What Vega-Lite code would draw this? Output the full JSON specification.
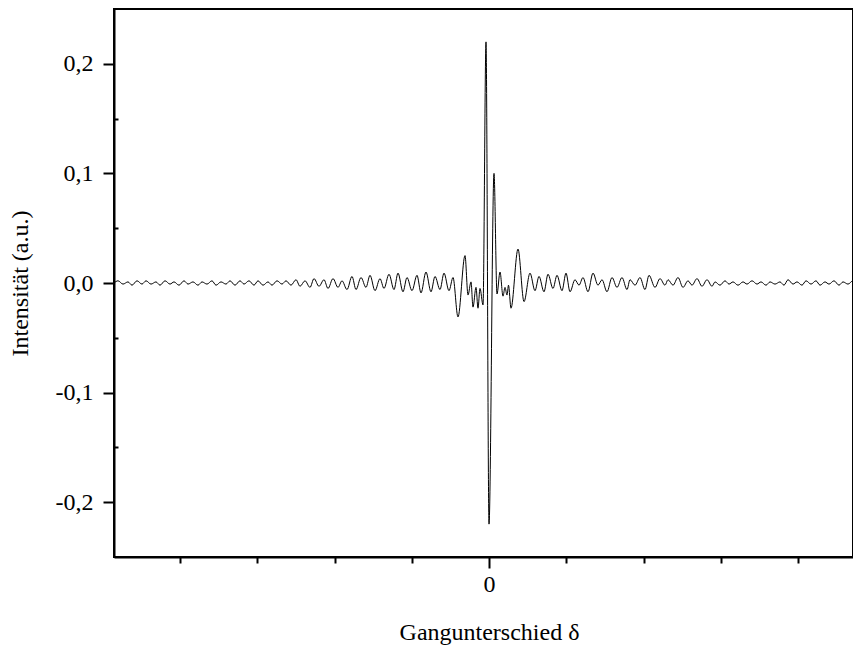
{
  "$schema": "https://vega.github.io/schema/vega-lite/v6.json",
  "width": 739,
  "height": 548,
  "autosize": {"type": "none"},
  "padding": {"left": 114, "top": 9, "right": 0, "bottom": 93},
  "background": "white",
  "config": {
    "view": {"stroke": "black", "strokeWidth": 2},
    "font": "Liberation Serif",
    "axis": {
      "labelFont": "Liberation Serif",
      "titleFont": "Liberation Serif",
      "labelFontSize": 24,
      "titleFontSize": 24,
      "titleFontWeight": "normal",
      "labelColor": "black",
      "titleColor": "black",
      "domainColor": "black",
      "domainWidth": 2,
      "tickColor": "black",
      "tickWidth": 2,
      "grid": false
    }
  },
  "data": {
    "values": [
      {"delta": -375, "intensity": 0.0},
      {"delta": -371, "intensity": 0.002},
      {"delta": -366, "intensity": -0.001},
      {"delta": -361, "intensity": 0.001},
      {"delta": -357, "intensity": -0.002},
      {"delta": -352, "intensity": 0.002},
      {"delta": -347, "intensity": -0.001},
      {"delta": -343, "intensity": 0.002},
      {"delta": -338, "intensity": -0.001},
      {"delta": -333, "intensity": 0.001},
      {"delta": -329, "intensity": -0.002},
      {"delta": -324, "intensity": 0.002},
      {"delta": -319, "intensity": -0.001},
      {"delta": -315, "intensity": 0.001},
      {"delta": -310, "intensity": -0.002},
      {"delta": -305, "intensity": 0.002},
      {"delta": -301, "intensity": -0.001},
      {"delta": -296, "intensity": 0.001},
      {"delta": -291, "intensity": -0.002},
      {"delta": -287, "intensity": 0.001},
      {"delta": -282, "intensity": -0.001},
      {"delta": -277, "intensity": 0.002},
      {"delta": -273, "intensity": -0.002},
      {"delta": -268, "intensity": 0.001},
      {"delta": -263, "intensity": -0.001},
      {"delta": -259, "intensity": 0.002},
      {"delta": -254, "intensity": -0.002},
      {"delta": -249, "intensity": 0.002},
      {"delta": -245, "intensity": -0.001},
      {"delta": -240, "intensity": 0.002},
      {"delta": -235, "intensity": -0.002},
      {"delta": -231, "intensity": 0.002},
      {"delta": -226, "intensity": -0.002},
      {"delta": -221, "intensity": 0.001},
      {"delta": -217, "intensity": -0.002},
      {"delta": -212, "intensity": 0.002},
      {"delta": -207, "intensity": -0.001},
      {"delta": -203, "intensity": 0.002},
      {"delta": -198, "intensity": -0.002},
      {"delta": -193, "intensity": 0.003},
      {"delta": -189, "intensity": -0.003},
      {"delta": -184, "intensity": 0.002},
      {"delta": -179, "intensity": -0.004},
      {"delta": -175, "intensity": 0.004},
      {"delta": -170, "intensity": -0.003},
      {"delta": -165, "intensity": 0.003},
      {"delta": -161, "intensity": -0.005},
      {"delta": -156, "intensity": 0.004},
      {"delta": -151, "intensity": -0.004},
      {"delta": -147, "intensity": 0.002},
      {"delta": -142, "intensity": -0.006},
      {"delta": -137, "intensity": 0.006},
      {"delta": -133, "intensity": -0.006},
      {"delta": -128, "intensity": 0.005},
      {"delta": -123, "intensity": -0.004},
      {"delta": -119, "intensity": 0.007},
      {"delta": -114, "intensity": -0.007},
      {"delta": -109, "intensity": 0.004},
      {"delta": -105, "intensity": -0.005},
      {"delta": -100, "intensity": 0.008},
      {"delta": -95, "intensity": -0.006},
      {"delta": -91, "intensity": 0.009},
      {"delta": -86, "intensity": -0.008},
      {"delta": -82, "intensity": 0.005},
      {"delta": -77, "intensity": -0.007},
      {"delta": -72, "intensity": 0.007},
      {"delta": -68, "intensity": -0.009},
      {"delta": -63, "intensity": 0.01},
      {"delta": -58, "intensity": -0.008},
      {"delta": -54, "intensity": 0.006},
      {"delta": -49, "intensity": -0.006},
      {"delta": -45, "intensity": 0.009},
      {"delta": -40, "intensity": -0.007},
      {"delta": -36, "intensity": 0.005},
      {"delta": -31, "intensity": -0.031},
      {"delta": -24, "intensity": 0.025},
      {"delta": -21, "intensity": -0.011},
      {"delta": -18, "intensity": 0.001},
      {"delta": -16, "intensity": -0.022},
      {"delta": -13, "intensity": -0.004},
      {"delta": -11, "intensity": -0.023},
      {"delta": -9, "intensity": -0.005},
      {"delta": -6, "intensity": -0.02},
      {"delta": -3, "intensity": 0.22},
      {"delta": 0, "intensity": -0.22},
      {"delta": 5, "intensity": 0.1},
      {"delta": 8, "intensity": -0.01},
      {"delta": 11, "intensity": 0.01},
      {"delta": 14, "intensity": -0.012},
      {"delta": 16, "intensity": -0.004},
      {"delta": 18, "intensity": -0.011},
      {"delta": 19.5, "intensity": -0.002},
      {"delta": 22, "intensity": -0.023},
      {"delta": 29, "intensity": 0.031},
      {"delta": 35, "intensity": -0.017},
      {"delta": 41, "intensity": 0.009},
      {"delta": 46, "intensity": -0.007},
      {"delta": 50, "intensity": 0.006},
      {"delta": 55, "intensity": -0.008},
      {"delta": 59, "intensity": 0.008},
      {"delta": 64, "intensity": -0.005},
      {"delta": 68, "intensity": 0.007},
      {"delta": 73, "intensity": -0.007},
      {"delta": 77, "intensity": 0.009},
      {"delta": 81, "intensity": -0.008},
      {"delta": 86, "intensity": 0.003},
      {"delta": 90, "intensity": -0.002},
      {"delta": 94, "intensity": 0.005},
      {"delta": 99, "intensity": -0.008},
      {"delta": 104, "intensity": 0.009},
      {"delta": 109, "intensity": -0.002},
      {"delta": 113, "intensity": 0.003},
      {"delta": 118, "intensity": -0.008},
      {"delta": 123, "intensity": 0.005},
      {"delta": 128, "intensity": -0.004},
      {"delta": 133, "intensity": 0.005},
      {"delta": 138, "intensity": -0.006},
      {"delta": 141, "intensity": 0.003},
      {"delta": 146, "intensity": -0.002},
      {"delta": 151, "intensity": 0.005},
      {"delta": 156, "intensity": -0.006},
      {"delta": 160, "intensity": 0.007},
      {"delta": 166, "intensity": -0.004},
      {"delta": 171, "intensity": 0.004},
      {"delta": 176, "intensity": -0.002},
      {"delta": 179, "intensity": 0.003},
      {"delta": 184, "intensity": -0.002},
      {"delta": 189, "intensity": 0.005},
      {"delta": 194, "intensity": -0.004},
      {"delta": 199, "intensity": 0.002},
      {"delta": 203, "intensity": -0.002},
      {"delta": 208, "intensity": 0.004},
      {"delta": 213, "intensity": -0.003},
      {"delta": 218, "intensity": 0.003},
      {"delta": 223, "intensity": -0.003},
      {"delta": 226, "intensity": 0.001},
      {"delta": 231, "intensity": -0.002},
      {"delta": 236, "intensity": 0.002},
      {"delta": 240, "intensity": -0.001},
      {"delta": 244, "intensity": 0.001},
      {"delta": 249, "intensity": -0.002},
      {"delta": 254, "intensity": 0.001},
      {"delta": 258, "intensity": -0.001},
      {"delta": 263, "intensity": 0.002},
      {"delta": 268, "intensity": -0.001},
      {"delta": 272, "intensity": 0.001},
      {"delta": 277, "intensity": -0.002},
      {"delta": 281, "intensity": 0.001},
      {"delta": 286, "intensity": -0.001},
      {"delta": 291, "intensity": 0.001},
      {"delta": 295, "intensity": -0.002},
      {"delta": 299, "intensity": 0.003},
      {"delta": 304, "intensity": -0.001},
      {"delta": 308, "intensity": 0.001},
      {"delta": 313, "intensity": -0.002},
      {"delta": 317, "intensity": 0.002},
      {"delta": 322, "intensity": -0.001},
      {"delta": 327, "intensity": 0.002},
      {"delta": 331, "intensity": -0.002},
      {"delta": 336, "intensity": 0.001},
      {"delta": 340, "intensity": -0.001},
      {"delta": 345, "intensity": 0.002},
      {"delta": 350, "intensity": -0.002},
      {"delta": 354, "intensity": 0.001},
      {"delta": 359, "intensity": -0.001},
      {"delta": 364, "intensity": 0.002},
      {"delta": 368, "intensity": 0.0},
      {"delta": 375, "intensity": 0.0}
    ]
  },
  "mark": {"type": "line", "color": "black", "strokeWidth": 1, "interpolate": "monotone", "clip": true},
  "encoding": {
    "x": {
      "field": "delta",
      "type": "quantitative",
      "scale": {"domain": [-375, 364], "nice": false, "zero": false},
      "axis": {
        "title": "Gangunterschied δ",
        "values": [-309, -232, -154.5, -77, 0, 77, 154.5, 232, 309],
        "labelExpr": "datum.value == 0 ? '0' : ''",
        "tickSize": {"condition": {"test": "datum.value == 0", "value": 11}, "value": 6},
        "labelPadding": 4,
        "titleX": 375,
        "titleY": 75,
        "titleBaseline": "middle",
        "titleAlign": "center"
      }
    },
    "y": {
      "field": "intensity",
      "type": "quantitative",
      "scale": {"domain": [-0.25, 0.25], "nice": false, "zero": false},
      "axis": {
        "title": "Intensität (a.u.)",
        "values": [-0.2, -0.15, -0.1, -0.05, 0, 0.05, 0.1, 0.15, 0.2],
        "labelExpr": "abs(datum.value * 10 - round(datum.value * 10)) > 0.01 ? '' : (datum.value < -0.001 ? '-' + replace(format(-datum.value, '.1f'), '.', ',') : replace(format(abs(datum.value), '.1f'), '.', ','))",
        "tickSize": {"condition": {"test": "abs(datum.value * 10 - round(datum.value * 10)) > 0.01", "value": -4}, "value": 11},
        "labelPadding": 10,
        "titleAngle": -90,
        "titleX": -94,
        "titleY": 274,
        "titleBaseline": "middle",
        "titleAlign": "center"
      }
    }
  }
}
